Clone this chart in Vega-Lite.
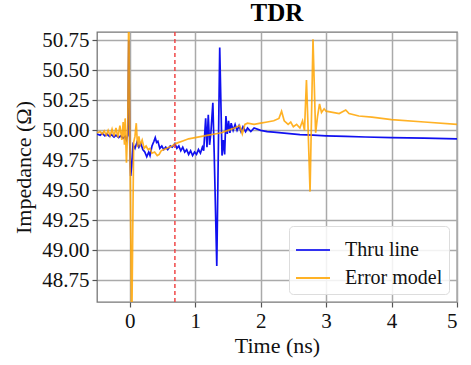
{
  "$schema": "https://vega.github.io/schema/vega-lite/v6.json",
  "width": 360,
  "height": 270,
  "autosize": "none",
  "padding": {"left": 97, "top": 32, "right": 14, "bottom": 63},
  "background": "white",
  "title": {"text": "TDR", "font": "'Liberation Serif', 'DejaVu Serif', serif", "fontSize": 25, "fontWeight": "bold", "color": "black", "offset": 3},
  "config": {
    "font": "'Liberation Serif', 'DejaVu Serif', serif",
    "view": {"stroke": "#777", "strokeWidth": 1.3},
    "axis": {
      "labelFont": "'Liberation Serif', 'DejaVu Serif', serif", "titleFont": "'Liberation Serif', 'DejaVu Serif', serif",
      "labelFontSize": 21, "titleFontSize": 22, "titleFontWeight": "normal",
      "labelColor": "#111", "titleColor": "#111",
      "gridColor": "#aaa", "gridWidth": 1.5, "domain": false,
      "tickColor": "#555", "tickSize": 5, "tickWidth": 1.2
    },
    "legend": {"labelFont": "'Liberation Serif', 'DejaVu Serif', serif"}
  },
  "data": {"values": [
    {"t": -0.5, "z": 49.97, "s": "Thru line"},
    {"t": -0.45, "z": 49.96, "s": "Thru line"},
    {"t": -0.42, "z": 49.975, "s": "Thru line"},
    {"t": -0.38, "z": 49.955, "s": "Thru line"},
    {"t": -0.35, "z": 49.97, "s": "Thru line"},
    {"t": -0.31, "z": 49.95, "s": "Thru line"},
    {"t": -0.28, "z": 49.965, "s": "Thru line"},
    {"t": -0.24, "z": 49.945, "s": "Thru line"},
    {"t": -0.21, "z": 49.96, "s": "Thru line"},
    {"t": -0.17, "z": 49.94, "s": "Thru line"},
    {"t": -0.14, "z": 49.955, "s": "Thru line"},
    {"t": -0.1, "z": 49.935, "s": "Thru line"},
    {"t": -0.07, "z": 49.95, "s": "Thru line"},
    {"t": -0.05, "z": 49.92, "s": "Thru line"},
    {"t": -0.03, "z": 49.96, "s": "Thru line"},
    {"t": -0.015, "z": 50.75, "s": "Thru line"},
    {"t": 0.0, "z": 49.9, "s": "Thru line"},
    {"t": 0.015, "z": 49.62, "s": "Thru line"},
    {"t": 0.03, "z": 49.7, "s": "Thru line"},
    {"t": 0.05, "z": 49.88, "s": "Thru line"},
    {"t": 0.08, "z": 49.85, "s": "Thru line"},
    {"t": 0.11, "z": 49.9, "s": "Thru line"},
    {"t": 0.14, "z": 49.86, "s": "Thru line"},
    {"t": 0.17, "z": 49.89, "s": "Thru line"},
    {"t": 0.2, "z": 49.84, "s": "Thru line"},
    {"t": 0.23, "z": 49.82, "s": "Thru line"},
    {"t": 0.26, "z": 49.78, "s": "Thru line"},
    {"t": 0.29, "z": 49.82, "s": "Thru line"},
    {"t": 0.31, "z": 49.79, "s": "Thru line"},
    {"t": 0.34, "z": 49.87, "s": "Thru line"},
    {"t": 0.37, "z": 49.91, "s": "Thru line"},
    {"t": 0.39, "z": 49.94, "s": "Thru line"},
    {"t": 0.41, "z": 49.9, "s": "Thru line"},
    {"t": 0.43, "z": 49.91, "s": "Thru line"},
    {"t": 0.46, "z": 49.85, "s": "Thru line"},
    {"t": 0.49, "z": 49.87, "s": "Thru line"},
    {"t": 0.52, "z": 49.84, "s": "Thru line"},
    {"t": 0.55, "z": 49.86, "s": "Thru line"},
    {"t": 0.58, "z": 49.84, "s": "Thru line"},
    {"t": 0.62, "z": 49.87, "s": "Thru line"},
    {"t": 0.65, "z": 49.86, "s": "Thru line"},
    {"t": 0.69, "z": 49.89, "s": "Thru line"},
    {"t": 0.72, "z": 49.85, "s": "Thru line"},
    {"t": 0.75, "z": 49.87, "s": "Thru line"},
    {"t": 0.78, "z": 49.83, "s": "Thru line"},
    {"t": 0.81, "z": 49.86, "s": "Thru line"},
    {"t": 0.84, "z": 49.82, "s": "Thru line"},
    {"t": 0.87, "z": 49.84, "s": "Thru line"},
    {"t": 0.9, "z": 49.8, "s": "Thru line"},
    {"t": 0.93, "z": 49.83, "s": "Thru line"},
    {"t": 0.96, "z": 49.79, "s": "Thru line"},
    {"t": 0.99, "z": 49.82, "s": "Thru line"},
    {"t": 1.02, "z": 49.8, "s": "Thru line"},
    {"t": 1.05, "z": 49.84, "s": "Thru line"},
    {"t": 1.08, "z": 49.81, "s": "Thru line"},
    {"t": 1.11, "z": 49.86, "s": "Thru line"},
    {"t": 1.13, "z": 49.83, "s": "Thru line"},
    {"t": 1.16, "z": 50.1, "s": "Thru line"},
    {"t": 1.18, "z": 49.86, "s": "Thru line"},
    {"t": 1.2, "z": 50.13, "s": "Thru line"},
    {"t": 1.22, "z": 49.88, "s": "Thru line"},
    {"t": 1.24, "z": 49.98, "s": "Thru line"},
    {"t": 1.27, "z": 50.23, "s": "Thru line"},
    {"t": 1.29, "z": 49.82, "s": "Thru line"},
    {"t": 1.33, "z": 48.87, "s": "Thru line"},
    {"t": 1.375, "z": 50.69, "s": "Thru line"},
    {"t": 1.41, "z": 49.79, "s": "Thru line"},
    {"t": 1.43, "z": 49.92, "s": "Thru line"},
    {"t": 1.45, "z": 49.8, "s": "Thru line"},
    {"t": 1.47, "z": 50.12, "s": "Thru line"},
    {"t": 1.49, "z": 49.97, "s": "Thru line"},
    {"t": 1.51, "z": 50.08, "s": "Thru line"},
    {"t": 1.53, "z": 49.98, "s": "Thru line"},
    {"t": 1.55, "z": 50.06, "s": "Thru line"},
    {"t": 1.58, "z": 50.0, "s": "Thru line"},
    {"t": 1.61, "z": 50.05, "s": "Thru line"},
    {"t": 1.64, "z": 50.0, "s": "Thru line"},
    {"t": 1.67, "z": 50.04, "s": "Thru line"},
    {"t": 1.7, "z": 49.99, "s": "Thru line"},
    {"t": 1.73, "z": 50.03, "s": "Thru line"},
    {"t": 1.77, "z": 49.99, "s": "Thru line"},
    {"t": 1.8, "z": 50.02, "s": "Thru line"},
    {"t": 1.85, "z": 49.99, "s": "Thru line"},
    {"t": 1.9, "z": 50.02, "s": "Thru line"},
    {"t": 2.0, "z": 50.0, "s": "Thru line"},
    {"t": 2.1, "z": 49.99, "s": "Thru line"},
    {"t": 2.2, "z": 49.985, "s": "Thru line"},
    {"t": 2.4, "z": 49.975, "s": "Thru line"},
    {"t": 2.6, "z": 49.965, "s": "Thru line"},
    {"t": 2.8, "z": 49.96, "s": "Thru line"},
    {"t": 3.0, "z": 49.955, "s": "Thru line"},
    {"t": 3.3, "z": 49.95, "s": "Thru line"},
    {"t": 3.6, "z": 49.945, "s": "Thru line"},
    {"t": 4.0, "z": 49.94, "s": "Thru line"},
    {"t": 4.5, "z": 49.935, "s": "Thru line"},
    {"t": 5.0, "z": 49.93, "s": "Thru line"},
    {"t": -0.5, "z": 49.98, "s": "Error model"},
    {"t": -0.45, "z": 49.99, "s": "Error model"},
    {"t": -0.42, "z": 49.97, "s": "Error model"},
    {"t": -0.39, "z": 49.995, "s": "Error model"},
    {"t": -0.36, "z": 49.96, "s": "Error model"},
    {"t": -0.33, "z": 50.0, "s": "Error model"},
    {"t": -0.3, "z": 49.955, "s": "Error model"},
    {"t": -0.27, "z": 50.01, "s": "Error model"},
    {"t": -0.24, "z": 49.95, "s": "Error model"},
    {"t": -0.21, "z": 50.02, "s": "Error model"},
    {"t": -0.18, "z": 49.94, "s": "Error model"},
    {"t": -0.15, "z": 50.04, "s": "Error model"},
    {"t": -0.12, "z": 49.92, "s": "Error model"},
    {"t": -0.1, "z": 50.07, "s": "Error model"},
    {"t": -0.08, "z": 49.88, "s": "Error model"},
    {"t": -0.07, "z": 50.1, "s": "Error model"},
    {"t": -0.05, "z": 49.73, "s": "Error model"},
    {"t": -0.03, "z": 50.05, "s": "Error model"},
    {"t": -0.015, "z": 51.0, "s": "Error model"},
    {"t": 0.03, "z": 48.3, "s": "Error model"},
    {"t": 0.06, "z": 49.9, "s": "Error model"},
    {"t": 0.08, "z": 49.95, "s": "Error model"},
    {"t": 0.1, "z": 50.06, "s": "Error model"},
    {"t": 0.12, "z": 49.86, "s": "Error model"},
    {"t": 0.14, "z": 49.95, "s": "Error model"},
    {"t": 0.16, "z": 49.88, "s": "Error model"},
    {"t": 0.19, "z": 49.92, "s": "Error model"},
    {"t": 0.22, "z": 49.85, "s": "Error model"},
    {"t": 0.25, "z": 49.87, "s": "Error model"},
    {"t": 0.28, "z": 49.84, "s": "Error model"},
    {"t": 0.31, "z": 49.85, "s": "Error model"},
    {"t": 0.34, "z": 49.81, "s": "Error model"},
    {"t": 0.38, "z": 49.82, "s": "Error model"},
    {"t": 0.42, "z": 49.79, "s": "Error model"},
    {"t": 0.45, "z": 49.8, "s": "Error model"},
    {"t": 0.48, "z": 49.83, "s": "Error model"},
    {"t": 0.52, "z": 49.84, "s": "Error model"},
    {"t": 0.56, "z": 49.85, "s": "Error model"},
    {"t": 0.6, "z": 49.86, "s": "Error model"},
    {"t": 0.65, "z": 49.87, "s": "Error model"},
    {"t": 0.7, "z": 49.89, "s": "Error model"},
    {"t": 0.75, "z": 49.9, "s": "Error model"},
    {"t": 0.8, "z": 49.91, "s": "Error model"},
    {"t": 0.9, "z": 49.93, "s": "Error model"},
    {"t": 1.0, "z": 49.94, "s": "Error model"},
    {"t": 1.1, "z": 49.95, "s": "Error model"},
    {"t": 1.2, "z": 49.96, "s": "Error model"},
    {"t": 1.3, "z": 49.97, "s": "Error model"},
    {"t": 1.4, "z": 49.98, "s": "Error model"},
    {"t": 1.5, "z": 50.0, "s": "Error model"},
    {"t": 1.6, "z": 50.02, "s": "Error model"},
    {"t": 1.68, "z": 50.04, "s": "Error model"},
    {"t": 1.72, "z": 49.97, "s": "Error model"},
    {"t": 1.76, "z": 50.05, "s": "Error model"},
    {"t": 1.8, "z": 50.06, "s": "Error model"},
    {"t": 1.9, "z": 50.05, "s": "Error model"},
    {"t": 2.0, "z": 50.06, "s": "Error model"},
    {"t": 2.1, "z": 50.07, "s": "Error model"},
    {"t": 2.2, "z": 50.08, "s": "Error model"},
    {"t": 2.28, "z": 50.1, "s": "Error model"},
    {"t": 2.32, "z": 50.16, "s": "Error model"},
    {"t": 2.36, "z": 50.08, "s": "Error model"},
    {"t": 2.42, "z": 50.05, "s": "Error model"},
    {"t": 2.46, "z": 50.07, "s": "Error model"},
    {"t": 2.5, "z": 50.03, "s": "Error model"},
    {"t": 2.55, "z": 50.05, "s": "Error model"},
    {"t": 2.6, "z": 50.02, "s": "Error model"},
    {"t": 2.64, "z": 50.08, "s": "Error model"},
    {"t": 2.67, "z": 50.0, "s": "Error model"},
    {"t": 2.7, "z": 50.42, "s": "Error model"},
    {"t": 2.72, "z": 50.1, "s": "Error model"},
    {"t": 2.755, "z": 49.49, "s": "Error model"},
    {"t": 2.8, "z": 50.76, "s": "Error model"},
    {"t": 2.84, "z": 49.98, "s": "Error model"},
    {"t": 2.87, "z": 50.12, "s": "Error model"},
    {"t": 2.9, "z": 50.22, "s": "Error model"},
    {"t": 2.93, "z": 50.15, "s": "Error model"},
    {"t": 2.97, "z": 50.18, "s": "Error model"},
    {"t": 3.0, "z": 50.16, "s": "Error model"},
    {"t": 3.1, "z": 50.15, "s": "Error model"},
    {"t": 3.2, "z": 50.14, "s": "Error model"},
    {"t": 3.3, "z": 50.17, "s": "Error model"},
    {"t": 3.35, "z": 50.14, "s": "Error model"},
    {"t": 3.5, "z": 50.12, "s": "Error model"},
    {"t": 3.7, "z": 50.11, "s": "Error model"},
    {"t": 4.0, "z": 50.09, "s": "Error model"},
    {"t": 4.5, "z": 50.07, "s": "Error model"},
    {"t": 5.0, "z": 50.05, "s": "Error model"}
  ]},
  "encoding": {
    "x": {"field": "t", "type": "quantitative", "title": "Time (ns)",
      "scale": {"domain": [-0.5, 5], "nice": false, "zero": false},
      "axis": {"values": [0, 1, 2, 3, 4, 5], "labelPadding": 3, "titlePadding": 4}},
    "y": {"field": "z", "type": "quantitative", "title": "Impedance (Ω)",
      "scale": {"domain": [48.57, 50.82], "nice": false, "zero": false},
      "axis": {"values": [48.75, 49.0, 49.25, 49.5, 49.75, 50.0, 50.25, 50.5, 50.75], "format": ".2f", "labelPadding": 3, "titlePadding": 6}}
  },
  "layer": [
    {
      "transform": [{"filter": "datum.s === 'Thru line'"}],
      "mark": {"type": "line", "strokeWidth": 1.7, "clip": true},
      "encoding": {
        "color": {"field": "s", "type": "nominal", "title": null,
          "scale": {"domain": ["Thru line", "Error model"], "range": ["#1010f0", "#ffa500"]},
          "legend": {"orient": "bottom-right", "offset": 8, "symbolType": "stroke", "symbolSize": 1156, "symbolStrokeWidth": 2,
            "labelFont": "'Liberation Serif', 'DejaVu Serif', serif", "labelFontSize": 20, "labelColor": "#111",
            "fillColor": "rgba(255,255,255,0.85)", "strokeColor": "#ddd", "cornerRadius": 4, "padding": 6,
            "rowPadding": -7, "labelOffset": 14}
        }
      }
    },
    {
      "transform": [{"filter": "datum.s === 'Error model'"}],
      "mark": {"type": "line", "strokeWidth": 1.7, "clip": true, "opacity": 0.85},
      "encoding": {
        "color": {"field": "s", "type": "nominal", "title": null}
      }
    },
    {
      "data": {"values": [{"t": 0.69}]},
      "mark": {"type": "rule", "color": "#f04040", "strokeDash": [4, 3], "strokeWidth": 1.6, "opacity": 0.9},
      "encoding": {"x": {"field": "t", "type": "quantitative"}, "y": null}
    }
  ]
}
